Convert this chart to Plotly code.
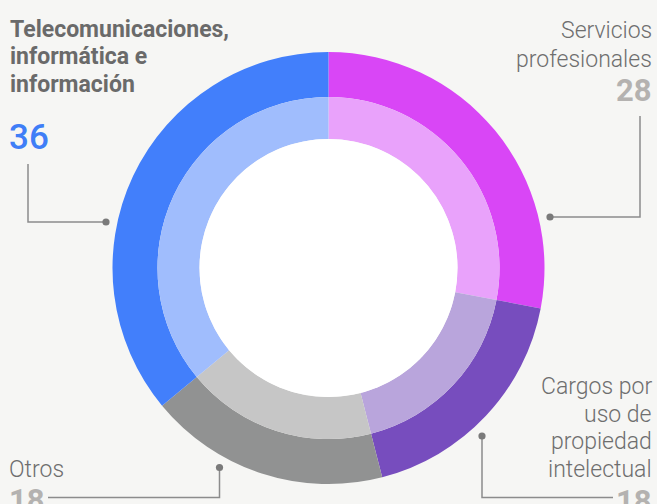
import plotly.graph_objects as go

W, H = 657, 504

categories = ["Servicios profesionales", "Cargos por uso de propiedad intelectual", "Otros",
              "Telecomunicaciones, informática e información"]
values = [28, 18, 18, 36]
label_lines = [["Servicios", "profesionales"],
               ["Cargos por", "uso de", "propiedad", "intelectual"],
               ["Otros"],
               ["Telecomunicaciones,", "informática e", "información"]]
outer_colors = ["#d946f6", "#774dbe", "#919292", "#427ffb"]
inner_colors = ["#e9a2fb", "#b9a5dc", "#c6c6c6", "#a0bdfd"]

BG = "#f6f6f4"
CX, CY = 328.5, 268.0
R_OUT, R_MID, R_HOLE = 216.0, 171.0, 129.0


def dom(r):
    return dict(x=[(CX - r) / W, (CX + r) / W],
                y=[(H - CY - r) / H, (H - CY + r) / H])


fig = go.Figure()
fig.add_trace(go.Pie(values=values, labels=categories, sort=False, direction="clockwise",
                     rotation=0, hole=R_MID / R_OUT, domain=dom(R_OUT),
                     marker=dict(colors=outer_colors, line=dict(width=0)),
                     textinfo="none", hoverinfo="label+value", showlegend=False))
fig.add_trace(go.Pie(values=values, labels=categories, sort=False, direction="clockwise",
                     rotation=0, hole=R_HOLE / R_MID, domain=dom(R_MID),
                     marker=dict(colors=inner_colors, line=dict(width=0)),
                     textinfo="none", hoverinfo="label+value", showlegend=False))
fig.add_trace(go.Pie(values=[1], labels=[""], sort=False, domain=dom(R_HOLE),
                     marker=dict(colors=["#ffffff"], line=dict(width=0)),
                     textinfo="none", hoverinfo="skip", showlegend=False))


def px(x):
    return x / W


def py(y):
    return 1 - y / H


LINE = "#8c8c8c"
shapes = []


def path(pts):
    d = "M " + " L ".join(f"{px(x)},{py(y)}" for x, y in pts)
    shapes.append(dict(type="path", path=d, xref="paper", yref="paper",
                       line=dict(color=LINE, width=1.5)))


def dot(x, y, r=3.6):
    shapes.append(dict(type="circle", xref="paper", yref="paper",
                       x0=px(x - r), x1=px(x + r), y0=py(y + r), y1=py(y - r),
                       fillcolor="#7a7a7a", line=dict(width=0)))


path([(28, 164), (28, 222), (106, 222)]); dot(106, 222)
path([(550, 217), (640, 217), (640, 116)]); dot(550, 217)
path([(482, 436), (482, 497.5), (613, 497.5)]); dot(482, 436)
path([(219.5, 467.5), (219.5, 497.5), (48, 497.5)]); dot(219.5, 467.5)

TXT = "#6e6e6e"
NUM = "#b4b2b0"
FONT = "Roboto"
ann = []


def text(x, baseline, t, size, color, weight=400, xanchor="left"):
    y = baseline - (1 + 0.93 * size)
    ann.append(dict(x=px(x), y=py(y), xref="paper", yref="paper", text=t, showarrow=False,
                    xanchor=xanchor, yanchor="top", align=xanchor,
                    font=dict(family=FONT, size=size, color=color, weight=weight)))


def block(x, baselines, lines, size, color, weight, xanchor):
    for b, t in zip(baselines, lines):
        text(x, b, t, size, color, weight, xanchor)


block(8, [36, 63.7, 91.5], label_lines[3], 23, "#6a6a6a", 700, "left")
text(7, 148.5, str(values[3]), 35, "#3f7ef7", 500)
block(654, [37.3, 66], label_lines[0], 23, TXT, 300, "right")
text(654, 100, str(values[0]), 31, NUM, 700, "right")
block(654, [393.5, 421.5, 448.8, 476.5], label_lines[1], 23, TXT, 300, "right")
text(654, 511, str(values[1]), 31, NUM, 700, "right")
block(7, [476], label_lines[2], 23, TXT, 300, "left")
text(7, 510, str(values[2]), 31, NUM, 700)

fig.update_layout(width=W, height=H, margin=dict(l=0, r=0, t=0, b=0),
                  paper_bgcolor=BG, plot_bgcolor=BG, shapes=shapes, annotations=ann,
                  showlegend=False)
fig.write_html("out.html", config={"displayModeBar": False},
               post_script=f"document.body.style.margin='0';document.body.style.background='{BG}';"
                           "document.body.style.overflow='hidden';")
